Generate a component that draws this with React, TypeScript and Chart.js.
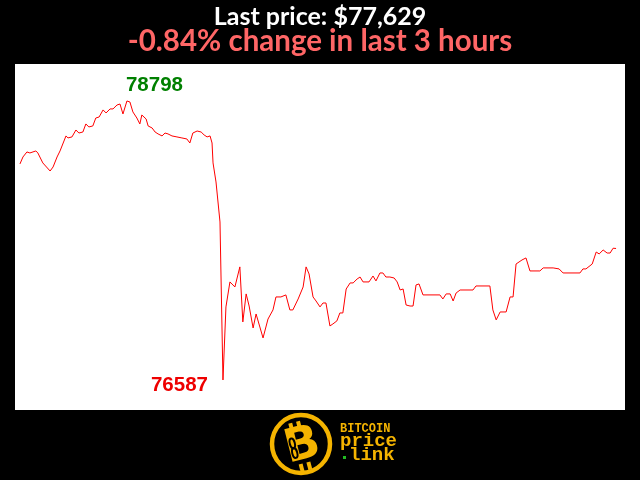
import React, { useEffect, useRef } from "react";
import { Chart, registerables } from "chart.js";

Chart.register(...registerables);

const titleText = "Last price: $77,629";
const subtitleText = "-0.84% change in last 3 hours";

// minutes since start of the 3-hour window
const minutes = [
  0, 0.9, 2.1, 3.0, 4.8, 5.4, 6.9, 9.1, 10.0, 11.2, 12.1, 13.9, 14.5, 15.7, 16.9, 17.8, 19.0, 19.9, 20.8, 22.0,
  22.9, 23.9, 25.1, 26.0, 27.2, 28.1, 29.3, 30.2, 31.1, 32.3, 33.2, 34.1, 35.3, 36.2, 36.8, 38.1, 38.7, 39.9, 40.8, 41.7,
  42.9, 43.8, 44.7, 45.9, 47.4, 48.9, 50.4, 51.3, 52.2, 53.5, 54.7, 55.6, 56.5, 57.4, 58.0, 58.3, 59.2, 60.4, 61.3, 62.2,
  63.4, 64.9, 66.4, 67.3, 68.3, 69.2, 70.4, 71.3, 73.4, 74.9, 76.4, 77.3, 78.8, 80.3, 81.5, 82.4, 84.0, 85.5, 86.4, 87.3,
  88.5, 89.4, 90.6, 91.5, 92.4, 93.6, 94.5, 95.7, 96.6, 97.5, 98.5, 99.7, 100.6, 101.8, 102.7, 103.6, 105.4, 106.6, 107.5, 108.7,
  109.6, 110.5, 111.7, 113.0, 113.9, 114.8, 115.7, 116.6, 117.8, 118.7, 119.6, 120.5, 121.7, 126.8, 127.7, 128.7, 129.9, 130.8, 131.7, 132.9,
  136.8, 137.7, 141.9, 142.8, 143.8, 145.0, 146.8, 148.0, 148.9, 149.8, 151.6, 152.8, 154.0, 157.0, 158.0, 161.0, 162.8, 164.0, 169.1, 170.0,
  170.9, 172.8, 174.0, 174.9, 176.1, 177.3, 178.2, 179.1, 180.0,
];

// BTC price in USD
const prices = [
  78299, 78354, 78394, 78386, 78402, 78386, 78307, 78243, 78275, 78354, 78402, 78521, 78505, 78513, 78568, 78544, 78552, 78616, 78592, 78600,
  78663, 78671, 78727, 78703, 78735, 78735, 78766, 78774, 78695, 78798, 78790, 78711, 78663, 78616, 78687, 78655, 78600, 78584, 78552, 78537,
  78521, 78544, 78537, 78521, 78513, 78505, 78497, 78465, 78544, 78560, 78552, 78529, 78513, 78521, 78465, 78307, 78156, 77839, 76587, 77166,
  77364, 77324, 77483, 77047, 77269, 77173, 76999, 77110, 76920, 77070, 77142, 77245, 77245, 77261, 77142, 77142, 77229, 77324, 77483, 77427,
  77245, 77213, 77166, 77197, 77197, 77015, 77031, 77055, 77118, 77118, 77308, 77356, 77356, 77387, 77403, 77364, 77364, 77411, 77372, 77435,
  77435, 77403, 77403, 77395, 77364, 77300, 77308, 77181, 77173, 77173, 77340, 77348, 77261, 77261, 77229, 77269, 77269, 77213, 77276, 77300,
  77300, 77332, 77332, 77142, 77063, 77126, 77126, 77245, 77245, 77506, 77538, 77554, 77451, 77451, 77475, 77475, 77467, 77435, 77435, 77467,
  77467, 77506, 77601, 77586, 77617, 77593, 77593, 77631, 77629,
];

const xMin = -1.5;
const xMax = 182.7;
const yMin = 76349;
const yMax = 79091;

const YELLOW = "#f5b400";

const decorPlugin = {
  id: "decor",
  beforeDraw(chart: any) {
    const { ctx, chartArea, width, height } = chart;
    ctx.save();
    ctx.fillStyle = "#000";
    ctx.fillRect(0, 0, width, height);
    ctx.fillStyle = "#fff";
    ctx.fillRect(chartArea.left, chartArea.top, chartArea.right - chartArea.left, chartArea.bottom - chartArea.top);
    ctx.restore();
  },
  afterDraw(chart: any) {
    const { ctx, scales } = chart;
    ctx.save();
    // titles
    ctx.textAlign = "center";
    ctx.textBaseline = "alphabetic";
    ctx.fillStyle = "#ffffff";
    ctx.font = "bold 25px Lato";
    ctx.fillText(titleText, 320, 25);
    ctx.fillStyle = "rgb(255,102,102)";
    ctx.font = "bold 29.5px Lato";
    ctx.fillText(subtitleText, 320, 51);

    // max / min labels
    let maxI = 0;
    let minI = 0;
    prices.forEach((p, i) => {
      if (p > prices[maxI]) maxI = i;
      if (p < prices[minI]) minI = i;
    });
    const mx = scales.x.getPixelForValue(minutes[maxI]);
    const my = scales.y.getPixelForValue(prices[maxI]);
    const nx = scales.x.getPixelForValue(minutes[minI]);
    const ny = scales.y.getPixelForValue(prices[minI]);
    ctx.font = "bold 20.5px 'Liberation Sans', Arial, sans-serif";
    ctx.fillStyle = "#008000";
    ctx.textAlign = "left";
    ctx.textBaseline = "alphabetic";
    ctx.fillText(String(prices[maxI]), mx - 1, my - 10);
    ctx.fillStyle = "#ee0000";
    ctx.textAlign = "right";
    ctx.textBaseline = "alphabetic";
    ctx.fillText(String(prices[minI]), nx - 15, ny + 11);

    // logo
    const cx = 301;
    const cy = 444;
    ctx.strokeStyle = YELLOW;
    ctx.lineWidth = 4.5;
    ctx.beginPath();
    ctx.arc(cx, cy, 29, 0, Math.PI * 2);
    ctx.stroke();
    ctx.save();
    ctx.translate(cx + 1, cy + 1);
    ctx.rotate(-0.25);
    ctx.fillStyle = YELLOW;
    ctx.font = "bold 46px 'DejaVu Sans', sans-serif";
    ctx.textAlign = "center";
    ctx.textBaseline = "middle";
    ctx.fillText("B", 0, 2);
    ctx.fillRect(-8, -24, 4, 8);
    ctx.fillRect(0, -24, 4, 8);
    ctx.fillRect(-8, 18, 4, 8);
    ctx.fillRect(0, 18, 4, 8);
    ctx.strokeStyle = "#000";
    ctx.lineWidth = 2;
    ctx.beginPath();
    ctx.ellipse(-9, -4, 2.5, 5, 0, 0, Math.PI * 2);
    ctx.stroke();
    ctx.beginPath();
    ctx.ellipse(-9, 6, 2.5, 5, 0, 0, Math.PI * 2);
    ctx.stroke();
    ctx.restore();

    ctx.fillStyle = YELLOW;
    ctx.textAlign = "left";
    ctx.textBaseline = "middle";
    ctx.font = "bold 12px 'Liberation Mono', monospace";
    ctx.fillText("BITCOIN", 340, 429);
    ctx.font = "bold 19px 'Liberation Mono', monospace";
    ctx.fillText("price", 340, 441);
    ctx.fillText("link", 349, 455);
    ctx.fillStyle = "#22bb22";
    ctx.fillRect(343, 456, 3, 3);
    ctx.restore();
  },
};

export default function App() {
  const ref = useRef<HTMLCanvasElement>(null);
  useEffect(() => {
    if (!ref.current) return;
    const chart = new Chart(ref.current, {
      type: "line",
      data: {
        datasets: [
          {
            data: minutes.map((m, i) => ({ x: m, y: prices[i] })),
            borderColor: "#ff0000",
            borderWidth: 1,
            pointRadius: 0,
            tension: 0,
            fill: false,
          },
        ],
      },
      options: {
        responsive: false,
        animation: false,
        layout: { padding: { left: 15, right: 15, top: 64, bottom: 70 } },
        plugins: { legend: { display: false }, tooltip: { enabled: false }, title: { display: false } },
        scales: {
          x: { type: "linear", min: xMin, max: xMax, display: false },
          y: { type: "linear", min: yMin, max: yMax, display: false },
        },
      },
      plugins: [decorPlugin],
    });
    return () => chart.destroy();
  }, []);
  return (
    <div style={{ position: "fixed", left: 0, top: 0, width: 640, height: 480, background: "#000" }}>
      <canvas ref={ref} width={640} height={480} />
    </div>
  );
}
